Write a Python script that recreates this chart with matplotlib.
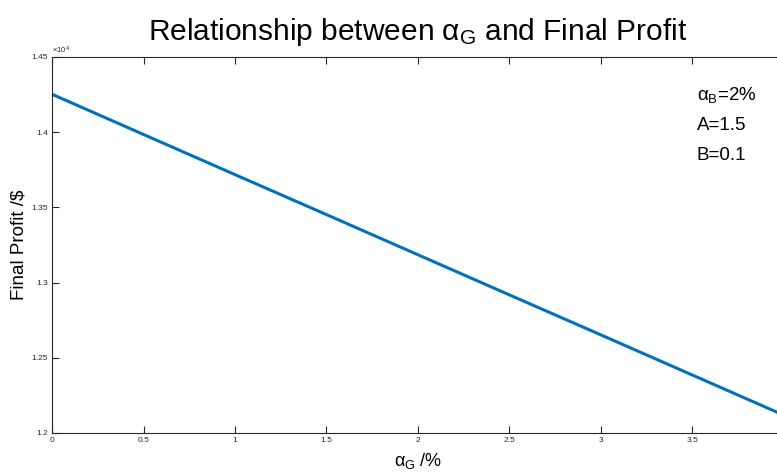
import matplotlib
matplotlib.use("Agg")
import matplotlib.pyplot as plt

# values
alpha_g = [0.01, 0.5, 1.0, 1.5, 2.0, 2.5, 3.0, 3.5, 4.0]
profit = [14247, 13985, 13718, 13452, 13185, 12918, 12652, 12385, 12118]

xtick_vals = [0, 0.5, 1, 1.5, 2, 2.5, 3, 3.5]
xtick_labels = ["0", "0.5", "1", "1.5", "2", "2.5", "3", "3.5"]
ytick_vals = [12000, 12500, 13000, 13500, 14000, 14500]
ytick_labels = ["1.2", "1.25", "1.3", "1.35", "1.4", "1.45"]
notes = [r"$\alpha_{\mathrm{B}}$=2%", "A=1.5", "B=0.1"]

plt.rcParams["font.family"] = ["Liberation Sans", "DejaVu Sans"]
plt.rcParams["mathtext.fontset"] = "custom"
plt.rcParams["mathtext.rm"] = "Liberation Sans"
plt.rcParams["mathtext.it"] = "Liberation Sans"
plt.rcParams["mathtext.bf"] = "Liberation Sans:bold"

fig = plt.figure(figsize=(7.77, 4.76), dpi=100)
# axes runs on past the right edge (x=4 sits just outside the picture)
ax = fig.add_axes([52 / 777, 1 - 433 / 476, 732 / 777, 376 / 476])

ax.plot(alpha_g, profit, color="#0072BD", linewidth=2.2)

ax.set_xlim(0, 4)
ax.set_ylim(12000, 14500)
ax.set_xticks(xtick_vals)
ax.set_xticklabels(xtick_labels)
ax.set_yticks(ytick_vals)
ax.set_yticklabels(ytick_labels)
ax.tick_params(direction="in", length=5, width=0.8, colors="#262626",
               labelsize=6, top=True, right=True, pad=3)
for s in ax.spines.values():
    s.set_color("#262626")
    s.set_linewidth(0.8)

ax.text(0.0, 1.003, r"$\times10^{4}$", transform=ax.transAxes,
        fontsize=5.5, color="#262626", ha="left", va="bottom")

ax.set_title(r"Relationship between $\alpha_{\mathrm{G}}$ and Final Profit",
             fontsize=21.5, pad=12)
ax.set_xlabel(r"$\alpha_{\mathrm{G}}$ /%", fontsize=13, labelpad=5)
ax.set_ylabel("Final Profit /$", fontsize=13.5, labelpad=3)

for i, t in enumerate(notes):
    fig.text(697 / 777, 1 - (95 + i * 30) / 476, t, fontsize=13.5, va="center")

fig.savefig("out.png", dpi=100)
